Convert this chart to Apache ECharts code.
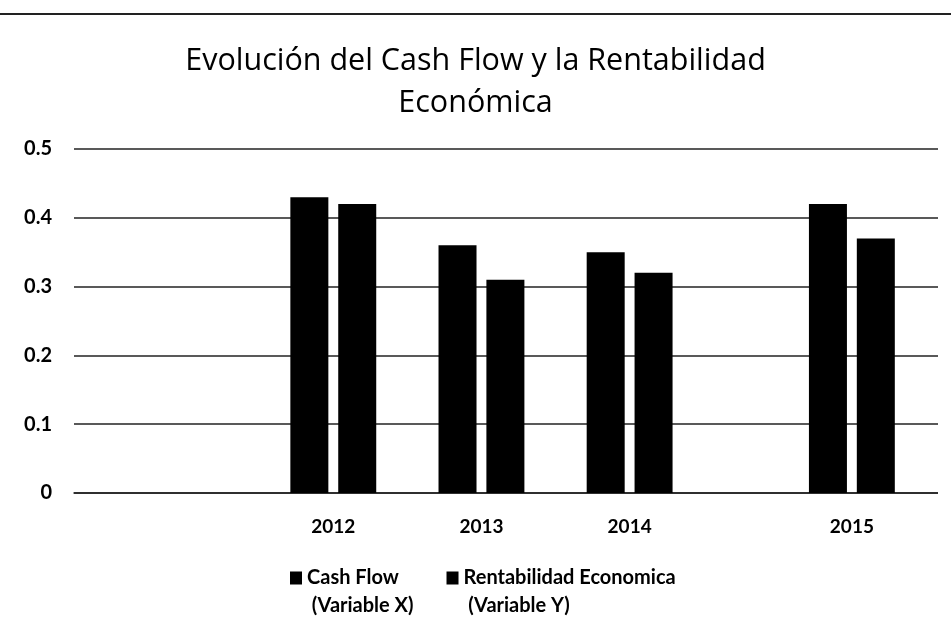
<!DOCTYPE html>
<html>
<head>
<meta charset="utf-8">
<script src="https://cdn.jsdelivr.net/npm/echarts@6/dist/echarts.min.js"></script>
<style>
	html, body { margin: 0; padding: 0; background: #fff; }
	#chart { width: 951px; height: 633px; }
</style>
</head>
<body>
<div id="chart"></div>
<script>
// slots of the category axis; empty ones keep the spacing of the original
var categories = ['', '', '', '2012', '', '2013', '', '2014', '', '', '2015', ''];
var cashFlow = ['-', '-', '-', 0.43, '-', 0.36, '-', 0.35, '-', '-', 0.42, '-'];
var rentabilidad = ['-', '-', '-', 0.42, '-', 0.31, '-', 0.32, '-', '-', 0.37, '-'];
var yTicks = [0, 0.1, 0.2, 0.3, 0.4, 0.5];

var font = 'Lato, "Open Sans", sans-serif';
var myChart = echarts.init(document.getElementById('chart'));

var option = {
	backgroundColor: '#fff',
	animation: false,
	title: {
		text: 'Evolución del Cash Flow y la Rentabilidad\nEconómica',
		left: 'center',
		top: 35,
		textStyle: {
			fontFamily: '"Open Sans", sans-serif',
			fontWeight: 'normal',
			fontSize: 30.5,
			lineHeight: 42,
			color: '#000'
		}
	},
	legend: {
		left: 285,
		top: 559,
		itemGap: 33,
		itemWidth: 12,
		itemHeight: 41,
		icon: 'path://M0,0L12,0L12,13L0,13Z M0,40.9L0.1,41',
		textStyle: {
			fontFamily: font,
			fontWeight: 'bold',
			fontSize: 20,
			lineHeight: 28,
			color: '#000'
		}
	},
	graphic: [{
		// rule at the top of the scanned page
		type: 'line',
		shape: { x1: 0, y1: 14, x2: 951, y2: 14 },
		style: { stroke: '#222', lineWidth: 2 }
	}, {
		// the plot area of the original ends a little before the right edge
		type: 'rect',
		z: 100,
		zlevel: 1,
		shape: { x: 938, y: 140, width: 20, height: 360 },
		style: { fill: '#fff' }
	}],
	grid: {
		left: 74,
		top: 149,
		width: 889,
		height: 344,
		outerBoundsMode: 'none'
	},
	xAxis: {
		type: 'category',
		data: categories,
		axisTick: { show: false },
		axisLine: { lineStyle: { color: '#222', width: 1.5 } },
		axisLabel: {
			margin: 24,
			interval: 0,
			fontFamily: font,
			fontWeight: 'bold',
			fontSize: 19,
			color: '#000'
		}
	},
	yAxis: {
		type: 'value',
		min: yTicks[0],
		max: yTicks[yTicks.length - 1],
		interval: 0.1,
		axisLine: { show: false },
		axisTick: { show: false },
		splitLine: { lineStyle: { color: '#222', width: 1.5 } },
		axisLabel: {
			margin: 22,
			fontFamily: font,
			fontWeight: 'bold',
			fontSize: 20,
			color: '#000'
		}
	},
	series: [{
		name: 'Cash Flow\n (Variable X)',
		type: 'bar',
		data: cashFlow,
		barWidth: 38,
		barGap: '26%',
		itemStyle: { color: '#000' }
	}, {
		name: 'Rentabilidad Economica\n (Variable Y)',
		type: 'bar',
		data: rentabilidad,
		barWidth: 38,
		itemStyle: { color: '#000' }
	}]
};
myChart.setOption(option);
window.onresize = function() {
	myChart.resize();
};
</script>
</body>
</html>
